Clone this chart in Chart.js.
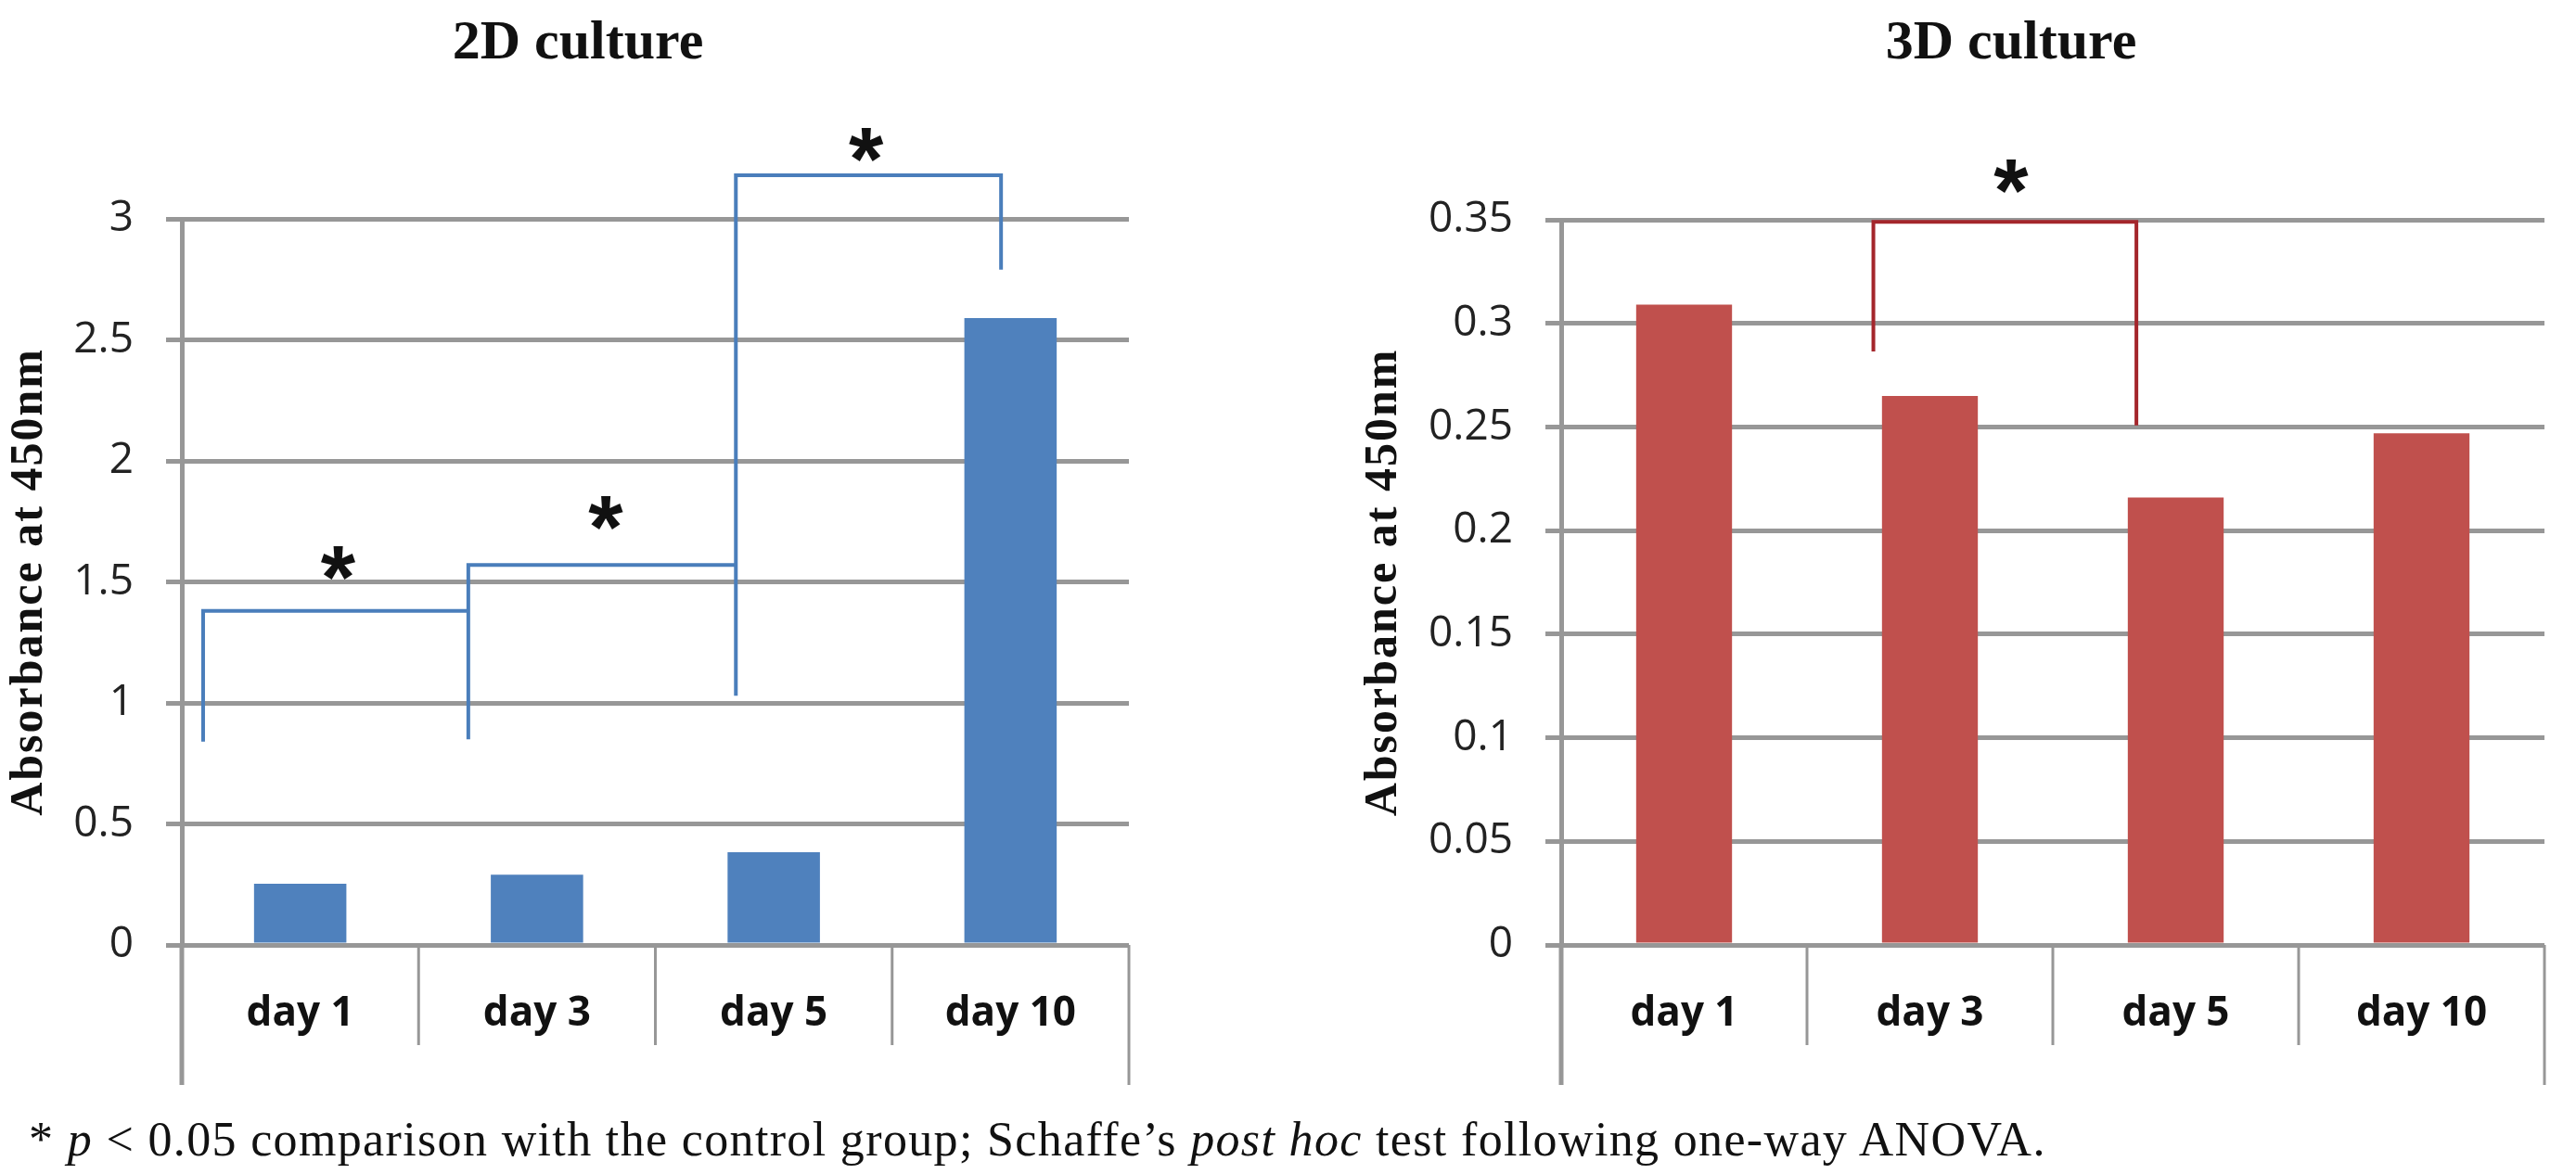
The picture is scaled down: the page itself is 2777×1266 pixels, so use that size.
<!DOCTYPE html>
<html>
<head>
<meta charset="utf-8">
<script src="https://cdn.jsdelivr.net/npm/chart.js@4.4.1/dist/chart.umd.min.js"></script>
<style>
  html, body { margin: 0; padding: 0; background: #fff; }
  body { width: 2777px; height: 1266px; position: relative; overflow: hidden; }
  canvas { position: absolute; top: 0; }
  #chart-2d { left: 0; }
  #chart-3d { left: 1460px; }
  .title {
    position: absolute; top: 13px; transform: translateX(-50%);
    font: bold 60px "Liberation Serif", "Times New Roman", serif;
    line-height: 60px; white-space: nowrap; color: #111;
  }
  #note {
    position: absolute; left: 31px; top: 1203px;
    font: 52px "Liberation Serif", "Times New Roman", serif;
    letter-spacing: 1.35px;
    line-height: 52px; white-space: nowrap; color: #111;
  }
</style>
</head>
<body>
<div class="title" style="left:623px">2D culture</div>
<div class="title" style="left:2168px">3D culture</div>
<canvas id="chart-2d" width="1260" height="1266"></canvas>
<canvas id="chart-3d" width="1317" height="1266"></canvas>
<div id="note">* <i>p</i> &lt; 0.05 comparison with the control group; Schaffe’s <i>post hoc</i> test following one-way ANOVA.</div>

<script>
const days = ['day 1', 'day 3', 'day 5', 'day 10'];
const absorbance2D = [0.253, 0.29, 0.383, 2.59];
const absorbance3D = [0.309, 0.265, 0.216, 0.247];
const ticks2D = [0, 0.5, 1, 1.5, 2, 2.5, 3];
const ticks3D = [0, 0.05, 0.1, 0.15, 0.2, 0.25, 0.3, 0.35];
const yTitle = 'Absorbance at 450nm';

// significance brackets, points as [category index, absorbance]
const brackets2D = [
  [[-0.41, 0.84], [-0.41, 1.38], [0.71, 1.38]],
  [[0.71, 0.85], [0.71, 1.57], [1.84, 1.57]],
  [[1.84, 1.03], [1.84, 3.18], [2.96, 3.18], [2.96, 2.79]],
];
const stars2D = [[0.16, 1.57], [1.29, 1.78], [2.39, 3.30]];
const brackets3D = [
  [[0.77, 0.2865], [0.77, 0.349], [1.84, 0.349], [1.84, 0.2507]],
];
const stars3D = [[1.33, 0.370]];

const GRID = '#979797';

function marksPlugin(brackets, stars, lineColor) {
  return {
    id: 'marks',
    afterDraw(chart) {
      const { ctx, chartArea } = chart;
      const x = chart.scales.x;
      const y = chart.scales.y;
      ctx.save();

      // category dividers under the axis
      ctx.strokeStyle = GRID;
      for (let i = 0; i <= days.length; i++) {
        const px = x.getPixelForValue(i - 0.5);
        const outer = i === 0 || i === days.length;
        ctx.lineWidth = i === 0 ? 5 : 3;
        ctx.beginPath();
        ctx.moveTo(px, chartArea.bottom);
        ctx.lineTo(px, chartArea.bottom + (outer ? 151 : 108));
        ctx.stroke();
      }

      // brackets
      ctx.strokeStyle = lineColor;
      ctx.lineWidth = 4;
      ctx.lineJoin = 'miter';
      brackets.forEach(points => {
        ctx.beginPath();
        points.forEach(([cx, cy], k) => {
          const px = x.getPixelForValue(cx);
          const py = y.getPixelForValue(cy);
          if (k === 0) ctx.moveTo(px, py);
          else ctx.lineTo(px, py);
        });
        ctx.stroke();
      });

      // stars
      const starSize = 96;
      ctx.fillStyle = '#111';
      ctx.font = `bold ${starSize}px "Liberation Sans", Arial, sans-serif`;
      ctx.textAlign = 'center';
      ctx.textBaseline = 'alphabetic';
      stars.forEach(([cx, cy]) => {
        ctx.fillText('*', x.getPixelForValue(cx), y.getPixelForValue(cy) + starSize * 0.48);
      });

      // y axis title
      ctx.translate(32, (chartArea.top + chartArea.bottom) / 2);
      ctx.rotate(-Math.PI / 2);
      ctx.font = 'bold 50px "Liberation Serif", "Times New Roman", serif';
      ctx.letterSpacing = '2px';
      ctx.textBaseline = 'middle';
      ctx.fillText(yTitle, 0, 0);
      ctx.restore();
    },
  };
}

function makeChart(id, values, color, tickValues, yMax, axisWidth, top, right, brackets, stars, lineColor) {
  const canvas = document.getElementById(id);
  return new Chart(canvas.getContext('2d'), {
    type: 'bar',
    data: {
      labels: days,
      datasets: [{
        data: values,
        backgroundColor: color,
        borderWidth: 0,
        barPercentage: 0.39,
        categoryPercentage: 1,
      }],
    },
    options: {
      responsive: false,
      animation: false,
      devicePixelRatio: 1,
      layout: { padding: { top: top, right: right, left: 0, bottom: 0 } },
      plugins: {
        legend: { display: false },
        tooltip: { enabled: false },
        title: { display: false },
      },
      scales: {
        x: {
          afterFit: scale => { scale.height = canvas.height - 1019; },
          border: { display: false },
          grid: { display: false },
          ticks: {
            padding: 40,
            color: '#111',
            font: { family: "'Open Sans', 'Noto Sans', sans-serif", size: 44, weight: 'bold' },
          },
        },
        y: {
          min: 0,
          max: yMax,
          afterBuildTicks: scale => { scale.ticks = tickValues.map(v => ({ value: v })); },
          afterFit: scale => { scale.width = axisWidth; },
          border: { display: true, color: GRID, width: 5 },
          grid: { color: GRID, lineWidth: 5, tickLength: 17 },
          ticks: {
            padding: 35,
            color: '#222',
            font: { family: "'Open Sans', 'Noto Sans', sans-serif", size: 46 },
            callback: v => String(v),
          },
        },
      },
    },
    plugins: [marksPlugin(brackets, stars, lineColor)],
  });
}

makeChart('chart-2d', absorbance2D, '#4f81bd', ticks2D, 3, 196, 236, 43, brackets2D, stars2D, '#4a7ebb');
makeChart('chart-3d', absorbance3D, '#c0504d', ticks3D, 0.35, 223, 237, 34, brackets3D, stars3D, '#a4262c');
</script>
</body>
</html>
